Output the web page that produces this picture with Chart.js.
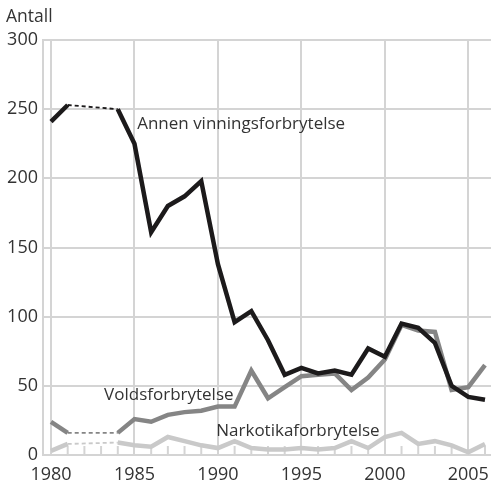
<!DOCTYPE html>
<html>
<head>
<meta charset="utf-8">
<script src="https://cdn.jsdelivr.net/npm/chart.js@4"></script>
<style>
  html, body { margin: 0; padding: 0; background: #fff; }
  #wrap { width: 491px; height: 486px; }
</style>
</head>
<body>
<div id="wrap"><canvas id="c" width="491" height="486"></canvas></div>
<script>
// ---- Data ----
const years = [1980, 1981, 1984, 1985, 1986, 1987, 1988, 1989, 1990, 1991, 1992, 1993, 1994, 1995, 1996, 1997, 1998, 1999, 2000, 2001, 2002, 2003, 2004, 2005, 2006];
const annenVinning = [241, 253, 250, 225, 161, 180, 187, 198, 138, 96, 104, 83, 58, 63, 59, 61, 58, 77, 71, 95, 92, 81, 50, 42, 40];
const volds = [24, 16, 16, 26, 24, 29, 31, 32, 35, 35, 61, 41, 49, 57, 58, 59, 47, 56, 69, 94, 90, 89, 47, 49, 65];
const narkotika = [3, 8, 9, 7, 6, 13, 10, 7, 5, 10, 5, 4, 4, 5, 4, 5, 10, 5, 13, 16, 8, 10, 7, 2, 8];
const seriesNames = ['Annen vinningsforbrytelse', 'Voldsforbrytelse', 'Narkotikaforbrytelse'];
const xTickYears = [1980, 1985, 1990, 1995, 2000, 2005];
const yTicks = [0, 50, 100, 150, 200, 250, 300];
const yTitle = 'Antall';

// ---- Styling / placement ----
const FONT = '"Open Sans", "DejaVu Sans", sans-serif';
const GRID = '#d4d4d4';
const TEXT = '#333333';
const colors = ['#1c1a1b', '#858585', '#c9c9c9'];
const labelPos = [
  { x: 1985.16, y: 236 },
  { x: 1983.18, y: 40 },
  { x: 1989.9, y: 14 }
];

function pts(vals) { return years.map((y, i) => ({ x: y, y: vals[i] })); }
function makeDs(vals, i) {
  return {
    label: seriesNames[i],
    data: pts(vals),
    borderColor: colors[i],
    borderWidth: 4.5,
    pointRadius: 0,
    tension: 0,
    fill: false,
    borderJoinStyle: 'miter',
    borderCapStyle: 'butt',
    segment: {
      borderDash: ctx => (ctx.p1.parsed.x - ctx.p0.parsed.x > 1 ? [4, 3] : undefined),
      borderWidth: ctx => (ctx.p1.parsed.x - ctx.p0.parsed.x > 1 ? 1.8 : undefined)
    }
  };
}

const minorTicks = {
  id: 'minorTicks',
  beforeDatasetsDraw(chart) {
    const xs = chart.scales.x, ys = chart.scales.y, c = chart.ctx;
    const bottom = ys.getPixelForValue(0);
    c.save();
    c.strokeStyle = GRID;
    c.lineWidth = 2;
    for (let yr = 1981; yr <= 2006; yr++) {
      if (yr % 5 === 0) continue;
      const px = xs.getPixelForValue(yr);
      c.beginPath();
      c.moveTo(px, bottom);
      c.lineTo(px, bottom - 9);
      c.stroke();
    }
    c.restore();
  }
};

const textLabels = {
  id: 'textLabels',
  afterDatasetsDraw(chart) {
    const xs = chart.scales.x, ys = chart.scales.y, c = chart.ctx;
    c.save();
    c.fillStyle = TEXT;
    c.textBaseline = 'alphabetic';
    c.textAlign = 'left';
    c.font = '17px ' + FONT;
    seriesNames.forEach((n, i) => {
      c.fillText(n, xs.getPixelForValue(labelPos[i].x), ys.getPixelForValue(labelPos[i].y));
    });
    c.font = '17.5px ' + FONT;
    c.fillText(yTitle, 6, 22);
    c.restore();
  }
};

new Chart(document.getElementById('c'), {
  type: 'line',
  data: { datasets: [makeDs(annenVinning, 0), makeDs(volds, 1), makeDs(narkotika, 2)] },
  options: {
    responsive: false,
    animation: false,
    layout: { padding: { top: 40, right: 0, left: 0, bottom: 0 } },
    plugins: { legend: { display: false }, tooltip: { enabled: false } },
    scales: {
      x: {
        type: 'linear',
        min: 1979.52,
        max: 2006.36,
        afterBuildTicks: s => { s.ticks = xTickYears.map(v => ({ value: v })); },
        afterFit: s => { s.height = 31; s.paddingLeft = 0; s.paddingRight = 0; },
        grid: { color: GRID, lineWidth: 2, drawTicks: false },
        border: { color: GRID, width: 2 },
        ticks: {
          autoSkip: false, maxRotation: 0, padding: 9,
          color: TEXT, font: { family: FONT, size: 18 },
          callback: v => String(v)
        }
      },
      y: {
        min: 0,
        max: 300,
        afterBuildTicks: s => { s.ticks = yTicks.map(v => ({ value: v })); },
        afterFit: s => { s.width = 43; s.paddingTop = 0; s.paddingBottom = 0; },
        grid: { color: GRID, lineWidth: 2, drawTicks: false },
        border: { color: GRID, width: 2 },
        ticks: {
          padding: 5,
          color: TEXT, font: { family: FONT, size: 18 },
          callback: v => String(v)
        }
      }
    }
  },
  plugins: [minorTicks, textLabels]
});
</script>
</body>
</html>
